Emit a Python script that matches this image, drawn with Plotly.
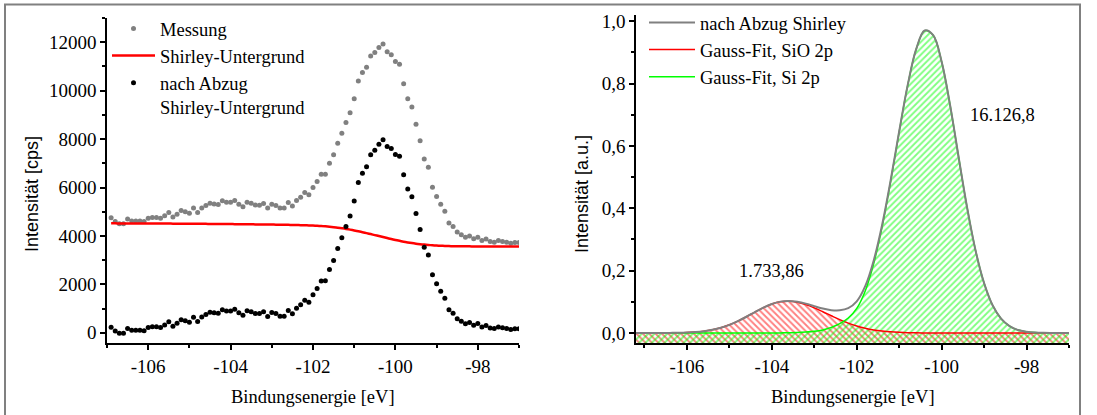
import plotly.graph_objects as go

# ---------------- data: left panel (XPS, Si 2p region) ----------------
x_left = [round(-106.9 + 0.1 * i, 1) for i in range(100)]

messung = [
    4750, 4600, 4500, 4500, 4700, 4620, 4620, 4620, 4600, 4730,
    4760, 4760, 4730, 4830, 4970, 4780, 4900, 5050, 5000, 4940,
    5150, 4970, 5150, 5260, 5350, 5320, 5300, 5450, 5390, 5390,
    5460, 5310, 5210, 5390, 5350, 5280, 5270, 5340, 5150, 5310,
    5260, 5150, 5150, 5380, 5240, 5460, 5600, 5790, 5700, 6000,
    6250, 6550, 6550, 7000, 7350, 7830, 8240, 8680, 9090, 9670,
    10400, 10750, 10970, 11430, 11580, 11780, 11930, 11610, 11480, 11200,
    11090, 10290, 9670, 9330, 8610, 7930, 7180, 6840, 6010, 5630,
    5310, 5020, 4530, 4390, 4160, 4050, 3950, 4000, 3880, 3950,
    3810, 3870, 3770, 3740, 3810, 3770, 3740, 3700, 3730, 3730,
]

shirley = [
    4520, 4520, 4519, 4519, 4518, 4518, 4517, 4516, 4516, 4515,
    4514, 4513, 4512, 4511, 4510, 4509, 4508, 4507, 4506, 4505,
    4504, 4502, 4501, 4499, 4498, 4496, 4495, 4493, 4492, 4490,
    4488, 4486, 4484, 4482, 4480, 4478, 4476, 4474, 4472, 4470,
    4467, 4464, 4461, 4458, 4455, 4450, 4445, 4440, 4435, 4428,
    4420, 4410, 4397, 4382, 4364, 4343, 4318, 4291, 4261, 4228,
    4193, 4156, 4117, 4077, 4036, 3995, 3954, 3913, 3873, 3835,
    3799, 3765, 3734, 3706, 3682, 3661, 3643, 3628, 3615, 3604,
    3595, 3588, 3582, 3578, 3575, 3573, 3572, 3570, 3569, 3568,
    3567, 3567, 3566, 3566, 3565, 3564, 3564, 3563, 3563, 3562,
]

nach_abzug = [m - s for m, s in zip(messung, shirley)]

# ---------------- data: right panel (Gauss fits) ----------------
x_right = [round(-107.2 + 0.2 * i, 1) for i in range(52)]

fit_sio = [
    0, 0, 0, 0.0001, 0.0004, 0.0008, 0.0017,
    0.0033, 0.0060, 0.0105, 0.0171, 0.0263, 0.0382, 0.0522, 0.0672, 0.0815, 0.0931,
    0.1003, 0.1018, 0.0985, 0.0912, 0.0807, 0.0684, 0.0554, 0.0429, 0.0318, 0.0226,
    0.0153, 0.0099, 0.0062, 0.0037, 0.0021, 0.0011, 0.0006, 0.0003, 0.0001,
    0, 0, 0, 0, 0, 0, 0, 0, 0, 0, 0, 0, 0, 0, 0, 0,
]

fit_si = [
    0, 0, 0, 0, 0, 0, 0, 0, 0, 0, 0, 0, 0, 0, 0, 0, 0,
    0.0004, 0.0008, 0.0015, 0.0030, 0.0055, 0.0100, 0.0180, 0.0300, 0.0480, 0.0790,
    0.1350, 0.2230, 0.3420, 0.4870, 0.6450, 0.7940, 0.9100, 0.9700, 0.9550, 0.8700,
    0.7300, 0.5640, 0.4020, 0.2640, 0.1600, 0.0890, 0.0460, 0.0220, 0.0095, 0.0040,
    0.0015, 0.0005, 0.0002, 0.0001, 0.0000,
]

summe = [a + b for a, b in zip(fit_sio, fit_si)]

left_ticks = [0, 2000, 4000, 6000, 8000, 10000, 12000]
right_ticks = [0.0, 0.2, 0.4, 0.6, 0.8, 1.0]
right_ticktext = ["0,0", "0,2", "0,4", "0,6", "0,8", "1,0"]
x_ticks = [-106, -104, -102, -100, -98]
x_ticktext = ["-106", "-104", "-102", "-100", "-98"]

# ---------------- figure ----------------
W, H = 1097, 415
SERIF = "Liberation Serif"
SANS = "Liberation Sans"
Y2_MIN, Y2_MAX = -0.032, 1.02

fig = go.Figure()

# left panel
fig.add_trace(go.Scatter(x=x_left, y=messung, mode="markers", name="Messung",
                         marker=dict(color="#808080", size=5),
                         xaxis="x", yaxis="y", legend="legend"))
fig.add_trace(go.Scatter(x=x_left, y=shirley, mode="lines", name="Shirley-Untergrund",
                         line=dict(color="#ff0000", width=2.5, shape="spline"),
                         xaxis="x", yaxis="y", legend="legend"))
fig.add_trace(go.Scatter(x=x_left, y=nach_abzug, mode="markers",
                         name="nach Abzug<br>Shirley-Untergrund",
                         marker=dict(color="#000000", size=5),
                         xaxis="x", yaxis="y", legend="legend"))

# right panel: hatched fills down to the axis floor
base = [Y2_MIN] * len(x_right)
fig.add_trace(go.Scatter(x=x_right, y=base, mode="lines", line=dict(width=0),
                         showlegend=False, hoverinfo="skip", xaxis="x2", yaxis="y2"))
fig.add_trace(go.Scatter(x=x_right, y=fit_sio, mode="lines", line=dict(width=0, shape="spline"),
                         fill="tonexty", fillcolor="rgba(0,0,0,0)",
                         fillpattern=dict(shape="\\", fgcolor="#ff0000", bgcolor="rgba(255,255,255,0)",
                                          size=4.5, solidity=0.42),
                         showlegend=False, hoverinfo="skip", xaxis="x2", yaxis="y2"))
fig.add_trace(go.Scatter(x=x_right, y=base, mode="lines", line=dict(width=0),
                         showlegend=False, hoverinfo="skip", xaxis="x2", yaxis="y2"))
fig.add_trace(go.Scatter(x=x_right, y=fit_si, mode="lines", line=dict(width=0, shape="spline"),
                         fill="tonexty", fillcolor="rgba(0,0,0,0)",
                         fillpattern=dict(shape="/", fgcolor="#00ff00", bgcolor="rgba(255,255,255,0)",
                                          size=4.5, solidity=0.42),
                         showlegend=False, hoverinfo="skip", xaxis="x2", yaxis="y2"))

# right panel lines (red and green first, grey sum on top)
fig.add_trace(go.Scatter(x=x_right, y=fit_sio, mode="lines", name="Gauss-Fit, SiO 2p",
                         line=dict(color="#ff0000", width=1.5, shape="spline"),
                         xaxis="x2", yaxis="y2", legend="legend2", legendrank=2))
fig.add_trace(go.Scatter(x=x_right, y=fit_si, mode="lines", name="Gauss-Fit, Si 2p",
                         line=dict(color="#00ff00", width=1.5, shape="spline"),
                         xaxis="x2", yaxis="y2", legend="legend2", legendrank=3))
fig.add_trace(go.Scatter(x=x_right, y=summe, mode="lines", name="nach Abzug Shirley",
                         line=dict(color="#808080", width=2, shape="spline"),
                         xaxis="x2", yaxis="y2", legend="legend2", legendrank=1))

axis_common = dict(
    showline=True, linecolor="black", linewidth=1.5, mirror=False,
    ticks="outside", ticklen=5, tickwidth=1.5, tickcolor="black",
    showgrid=False, zeroline=False,
    tickfont=dict(family=SERIF, size=19, color="black"),
    automargin=False,
)
minor_common = dict(ticks="outside", ticklen=3, tickwidth=1.5, tickcolor="black")
legend_font = dict(family=SERIF, size=18.5, color="black")

fig.update_layout(
    width=W, height=H,
    margin=dict(l=0, r=0, t=0, b=0),
    paper_bgcolor="white", plot_bgcolor="white",
    separators=",.",
    xaxis=dict(domain=[107 / W, 519 / W], range=[-107, -97], anchor="y",
               tickmode="array", tickvals=x_ticks, ticktext=x_ticktext,
               minor=dict(tick0=-107, dtick=1, **minor_common),
               **axis_common),
    yaxis=dict(domain=[(H - 343) / H, (H - 18) / H], range=[-420, 13000], anchor="x",
               tickmode="array", tickvals=left_ticks, tickformat="d",
               minor=dict(tick0=0, dtick=1000, **minor_common),
               **axis_common),
    xaxis2=dict(domain=[636 / W, 1069 / W], range=[-107.2, -97], anchor="y2",
                tickmode="array", tickvals=x_ticks, ticktext=x_ticktext,
                minor=dict(tick0=-107, dtick=1, **minor_common),
                **axis_common),
    yaxis2=dict(domain=[(H - 343) / H, (H - 15) / H], range=[Y2_MIN, Y2_MAX], anchor="x2",
                tickmode="array", tickvals=right_ticks, ticktext=right_ticktext,
                minor=dict(tick0=0, dtick=0.1, **minor_common),
                **axis_common),
    legend=dict(x=107 / W, y=1 - 10 / H, xanchor="left", yanchor="top",
                bgcolor="rgba(0,0,0,0)", borderwidth=0, itemwidth=43,
                font=legend_font, valign="top", tracegroupgap=0, traceorder="normal"),
    legend2=dict(x=644 / W, y=1 - 4 / H, xanchor="left", yanchor="top",
                 bgcolor="rgba(0,0,0,0)", borderwidth=0, itemwidth=46,
                 font=legend_font, valign="top", tracegroupgap=0, traceorder="normal"),
    showlegend=True,
)

annots = [
    dict(text="Intensität [cps]", x=32 / W, y=1 - 194 / H, textangle=-90,
         font=dict(family=SANS, size=18, color="black")),
    dict(text="Intensität [a.u.]", x=582 / W, y=1 - 194 / H, textangle=-90,
         font=dict(family=SANS, size=18, color="black")),
    dict(text="Bindungsenergie [eV]", x=313 / W, y=1 - 397 / H,
         font=dict(family=SERIF, size=18.5, color="black")),
    dict(text="Bindungsenergie [eV]", x=852.5 / W, y=1 - 397 / H,
         font=dict(family=SERIF, size=18.5, color="black")),
    dict(text="16.126,8", x=1003 / W, y=1 - 115 / H,
         font=dict(family=SERIF, size=18.5, color="black")),
    dict(text="1.733,86", x=772 / W, y=1 - 271 / H,
         font=dict(family=SERIF, size=18.5, color="black")),
]
for a in annots:
    fig.add_annotation(xref="paper", yref="paper", showarrow=False,
                       xanchor="center", yanchor="middle", **a)

# outer frame
fig.add_shape(type="rect", xref="paper", yref="paper",
              x0=5 / W, x1=1080 / W, y0=-0.2, y1=1 - 4.5 / H,
              line=dict(color="#808080", width=2), fillcolor="rgba(0,0,0,0)", layer="below")

fig.write_html("out.html")
